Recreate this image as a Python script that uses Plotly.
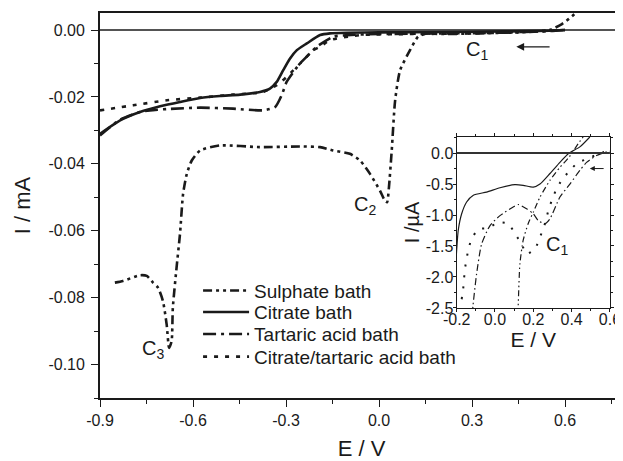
import plotly.graph_objects as go

# ---------------- main panel data (E / V, I / mA) ----------------
sulphate_E = [-0.852, -0.826, -0.771, -0.749, -0.729, -0.713, -0.697, -0.685, -0.677, -0.669, -0.665,
              -0.653, -0.642, -0.632, -0.620, -0.604, -0.577, -0.513, -0.384, -0.255, -0.19, -0.148,
              -0.094, -0.061, -0.029, 0.003, 0.019, 0.026, 0.032, 0.041, 0.052, 0.068, 0.1, 0.126,
              0.154, 0.2, 0.4, 0.5, 0.55, 0.59, 0.63, 0.65]
sulphate_I = [-0.0755, -0.075, -0.0733, -0.0735, -0.0755, -0.077, -0.081, -0.088, -0.095, -0.093, -0.083,
              -0.071, -0.061, -0.049, -0.043, -0.039, -0.036, -0.0345, -0.035, -0.0348, -0.035, -0.036,
              -0.037, -0.039, -0.043, -0.048, -0.051, -0.0515, -0.047, -0.036, -0.021, -0.012, -0.006, -0.002,
              -0.001, -0.0012, -0.0008, -0.0005, 0.0, 0.0018, 0.0047, 0.0065]

citrate_E = [-0.9, -0.835, -0.771, -0.706, -0.642, -0.577, -0.513, -0.448, -0.384, -0.352, -0.330,
             -0.309, -0.287, -0.265, -0.233, -0.19, -0.158, -0.1, 0.0, 0.2, 0.4, 0.55, 0.6]
citrate_I = [-0.031, -0.027, -0.0245, -0.0228, -0.0215, -0.0203, -0.0197, -0.0193, -0.0185, -0.0175, -0.0155,
             -0.012, -0.0085, -0.006, -0.004, -0.0015, -0.001, -0.0008, -0.0007, -0.0006, -0.0004, -0.0002, 0.0]

tartaric_E = [-0.9, -0.835, -0.771, -0.739, -0.68, -0.577, -0.471, -0.374, -0.335, -0.314, -0.298,
              -0.276, -0.255, -0.223, -0.201, -0.148, -0.1, 0.0, 0.2, 0.4, 0.55, 0.6]
tartaric_I = [-0.0315, -0.0268, -0.0245, -0.024, -0.0236, -0.0232, -0.0235, -0.024, -0.023, -0.0195, -0.0155,
              -0.0125, -0.010, -0.007, -0.005, -0.002, -0.0015, -0.0012, -0.001, -0.0008, -0.0003, 0.0]

cittart_E = [-0.9, -0.793, -0.684, -0.577, -0.471, -0.374, -0.33, -0.298, -0.276, -0.244, -0.212,
             -0.19, -0.158, -0.061, 0.1, 0.3, 0.45, 0.55, 0.6]
cittart_I = [-0.024, -0.0225, -0.021, -0.0202, -0.0193, -0.0185, -0.0165, -0.014, -0.012, -0.009, -0.006,
             -0.005, -0.003, -0.0015, -0.0012, -0.001, -0.0006, -0.0002, 0.0]

# ---------------- inset data (E / V, I / uA) ----------------
in_citrate_E = [-0.215, -0.204, -0.192, -0.174, -0.148, -0.113, -0.044, 0.026, 0.104, 0.147, 0.2, 0.235,
                0.287, 0.339, 0.387, 0.443, 0.495]
in_citrate_I = [-2.3, -1.76, -1.25, -0.98, -0.79, -0.68, -0.63, -0.56, -0.51, -0.52, -0.55, -0.50,
                -0.33, -0.15, 0.0, 0.10, 0.26]

in_sulphate_E = [0.119, 0.121, 0.130, 0.147, 0.173, 0.2, 0.235, 0.287, 0.339, 0.387, 0.434, 0.46]
in_sulphate_I = [-2.6, -2.47, -1.79, -1.41, -1.14, -0.955, -0.71, -0.44, -0.23, -0.065, 0.15, 0.26]

in_tartaric_E = [-0.118, -0.115, -0.096, -0.070, -0.026, 0.026, 0.095, 0.121, 0.165, 0.2, 0.226, 0.261,
                 0.287, 0.339, 0.391, 0.443, 0.478, 0.530, 0.582, 0.6]
in_tartaric_I = [-2.6, -2.47, -1.95, -1.47, -1.17, -1.01, -0.87, -0.83, -0.90, -0.98, -1.09, -1.14,
                 -1.06, -0.71, -0.50, -0.28, -0.15, -0.04, 0.02, 0.03]

in_cittart_E = [-0.174, -0.166, -0.157, -0.148, -0.139, -0.122, -0.087, -0.035, 0.017, 0.069, 0.104, 0.139,
                0.165, 0.208, 0.231, 0.249, 0.266, 0.278, 0.296, 0.318, 0.348, 0.391, 0.434, 0.487, 0.539, 0.6]
in_cittart_I = [-2.36, -2.19, -1.87, -1.71, -1.55, -1.39, -1.23, -1.21, -1.12, -1.14, -1.30, -1.47,
                -1.63, -1.55, -1.39, -1.24, -1.09, -0.93, -0.77, -0.60, -0.44, -0.28, -0.15, -0.09, -0.01, 0.04]

series_names = ["Sulphate bath", "Citrate bath", "Tartaric acid bath", "Citrate/tartaric acid bath"]

main_xticks = [-0.9, -0.6, -0.3, 0.0, 0.3, 0.6]
main_xticktext = ["-0.9", "-0.6", "-0.3", "0.0", "0.3", "0.6"]
main_yticks = [0.0, -0.02, -0.04, -0.06, -0.08, -0.10]
main_yticktext = ["0.00", "-0.02", "-0.04", "-0.06", "-0.08", "-0.10"]
in_xticks = [-0.2, 0.0, 0.2, 0.4, 0.6]
in_xticktext = ["-0.2", "0.0", "0.2", "0.4", "0.6"]
in_yticks = [0.0, -0.5, -1.0, -1.5, -2.0, -2.5]
in_yticktext = ["0.0", "-0.5", "-1.0", "-1.5", "-2.0", "-2.5"]

FONT = "Liberation Sans, Arial, Helvetica, sans-serif"
BLACK = "#1a1a1a"

main_dash = ["9px,4px,3px,4px,3px,4px", "solid", "13px,5px,3px,5px", "4px,7px"]
inset_dash = ["6px,3px,1.5px,3px,1.5px,3px", "solid", "7px,3px,1.5px,3px", "2px,9px"]

fig = go.Figure()

main_sets = [(sulphate_E, sulphate_I), (citrate_E, citrate_I), (tartaric_E, tartaric_I), (cittart_E, cittart_I)]
legend_ids = ["legend", "legend2", "legend3", "legend4"]
for k, (ex, iy) in enumerate(main_sets):
    fig.add_trace(go.Scatter(x=ex, y=iy, mode="lines", name=series_names[k],
                             line=dict(color=BLACK, width=2.6, dash=main_dash[k], shape="spline", smoothing=0.6),
                             legend=legend_ids[k], xaxis="x", yaxis="y"))

inset_sets = [(in_sulphate_E, in_sulphate_I), (in_citrate_E, in_citrate_I),
              (in_tartaric_E, in_tartaric_I), (in_cittart_E, in_cittart_I)]
for k, (ex, iy) in enumerate(inset_sets):
    w = 2.0 if k == 3 else 1.2
    fig.add_trace(go.Scatter(x=ex, y=iy, mode="lines", name=series_names[k], showlegend=False,
                             line=dict(color=BLACK, width=w, dash=inset_dash[k], shape="spline", smoothing=0.6),
                             xaxis="x2", yaxis="y2"))

# zero lines
fig.add_shape(type="line", xref="x domain", yref="y", x0=0, x1=1, y0=0, y1=0,
              line=dict(color=BLACK, width=1.6))
fig.add_shape(type="line", xref="x2 domain", yref="y2", x0=0, x1=1, y0=0, y1=0,
              line=dict(color="#333333", width=2))

lab_font = dict(family=FONT, size=20, color=BLACK)
fig.add_annotation(x=0.316, y=-0.0062, xref="x", yref="y", text="C<sub>1</sub>", showarrow=False, font=lab_font)
fig.add_annotation(x=-0.045, y=-0.0525, xref="x", yref="y", text="C<sub>2</sub>", showarrow=False, font=lab_font)
fig.add_annotation(x=-0.729, y=-0.0955, xref="x", yref="y", text="C<sub>3</sub>", showarrow=False, font=lab_font)
fig.add_annotation(x=0.323, y=-1.5, xref="x2", yref="y2", text="C<sub>1</sub>", showarrow=False, font=lab_font)

# arrows
fig.add_annotation(x=0.443, y=-0.005, ax=0.555, ay=-0.005, xref="x", yref="y", axref="x", ayref="y",
                   text="", showarrow=True, arrowhead=2, arrowsize=1.2, arrowwidth=1.3, arrowcolor=BLACK)
fig.add_annotation(x=0.495, y=-0.25, ax=0.575, ay=-0.25, xref="x2", yref="y2", axref="x2", ayref="y2",
                   text="", showarrow=True, arrowhead=2, arrowsize=1, arrowwidth=1, arrowcolor=BLACK)

tick_font = dict(family=FONT, size=16, color=BLACK)
title_font = dict(family=FONT, size=22, color=BLACK)

leg_common = dict(font=dict(family=FONT, size=19, color=BLACK), bgcolor="rgba(0,0,0,0)",
                  xanchor="left", yanchor="middle", itemwidth=46, borderwidth=0)
leg_y = [0.279, 0.223, 0.166, 0.107]
legends = {}
for k, lid in enumerate(legend_ids):
    legends[lid] = dict(x=0.1875, y=leg_y[k], **leg_common)

# the page body adds an 8 px offset, so the figure is 8 px smaller on each axis
fig.update_layout(
    width=615, height=453,
    margin=dict(l=92, r=0, t=5, b=63),
    paper_bgcolor="white", plot_bgcolor="white",
    font=dict(family=FONT, color=BLACK),
    xaxis=dict(domain=[0, 1], range=[-0.9, 0.787], tickvals=main_xticks, ticktext=main_xticktext,
               ticks="outside", ticklen=7, tickwidth=1.3, tickcolor=BLACK,
               minor=dict(dtick=0.15, tick0=-0.9, ticks="outside", ticklen=4, tickcolor=BLACK, tickwidth=1.2),
               showline=True, linecolor=BLACK, linewidth=1.8, mirror=True, showgrid=False, zeroline=False,
               tickfont=tick_font, ticklabelstandoff=0, automargin=False,
               title=dict(text="E / V", font=title_font, standoff=26)),
    yaxis=dict(domain=[0, 1], range=[-0.11, 0.0051], tickvals=main_yticks, ticktext=main_yticktext,
               ticks="outside", ticklen=7, tickwidth=1.3, tickcolor=BLACK,
               minor=dict(dtick=0.01, tick0=0, ticks="outside", ticklen=4, tickcolor=BLACK, tickwidth=1.2),
               showline=True, linecolor=BLACK, linewidth=1.8, mirror=False, showgrid=False, zeroline=False,
               tickfont=tick_font, ticklabelstandoff=3, automargin=False,
               title=dict(text="I / mA", font=title_font, standoff=12)),
    xaxis2=dict(domain=[0.682, 0.975], anchor="y2", range=[-0.2, 0.6], tickvals=in_xticks, ticktext=in_xticktext,
                ticks="outside", ticklen=3, tickcolor=BLACK, tickwidth=1,
                minor=dict(dtick=0.1, tick0=-0.2, ticks="outside", ticklen=2, tickcolor=BLACK),
                showline=True, linecolor=BLACK, linewidth=1.3, mirror="ticks", showgrid=False, zeroline=False,
                tickfont=tick_font, ticklabelstandoff=-6, automargin=False,
                title=dict(text="E / V", font=dict(family=FONT, size=21, color=BLACK), standoff=2)),
    yaxis2=dict(domain=[0.234, 0.678], anchor="x2", range=[-2.5, 0.26], tickvals=in_yticks, ticktext=in_yticktext,
                ticks="outside", ticklen=3, tickcolor=BLACK, tickwidth=1,
                minor=dict(dtick=0.25, tick0=0, ticks="outside", ticklen=2, tickcolor=BLACK),
                showline=True, linecolor=BLACK, linewidth=1.3, mirror="ticks", showgrid=False, zeroline=False,
                tickfont=tick_font, ticklabelstandoff=-4, automargin=False,
                title=dict(text="I /µA", font=dict(family=FONT, size=20, color=BLACK), standoff=0)),
    **legends,
)

fig.write_html("out.html")
